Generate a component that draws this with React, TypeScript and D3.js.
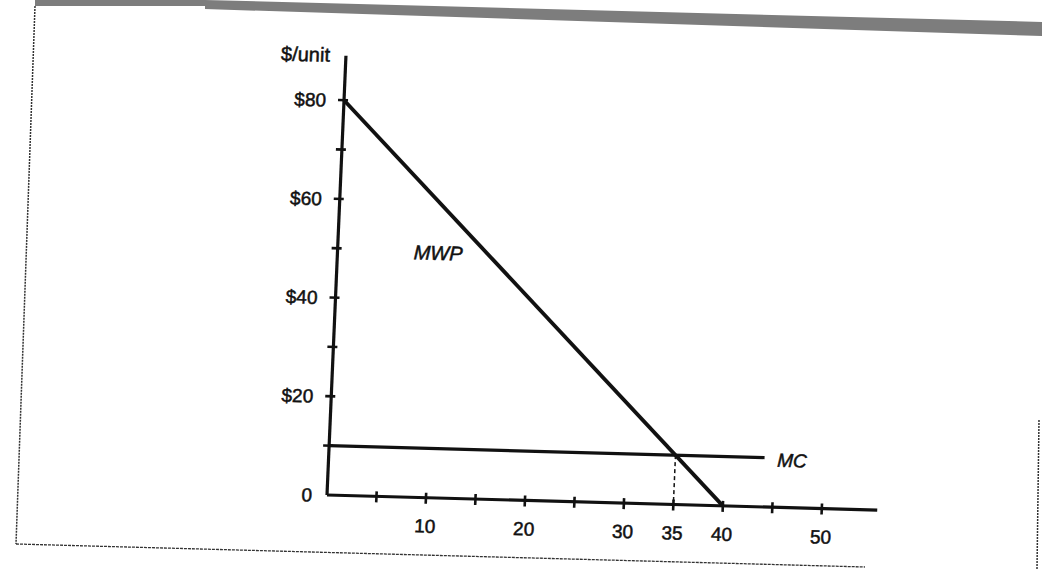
import React from "react";
import * as d3 from "d3";

// ---- data ----
const xTickValues = [5, 10, 15, 20, 25, 30, 35, 40, 45, 50];
const xLabelValues = [10, 20, 30, 35, 40, 50];
const yTickValues = [10, 20, 30, 40, 50, 60, 70, 80];
const yLabelValues = [0, 20, 40, 60, 80];
const yLabelTexts = ["0", "$20", "$40", "$60", "$80"];
const mwpQ = [0, 40];
const mwpP = [80, 0];
const mcQ = [0, 44];
const mcP = [10, 10];
const eqQ = 35;
const eqP = 10;
const xMax = 55.6;
const yMax = 89;

const W = 1042;
const H = 569;
const FONT = "'Liberation Sans', Arial, Helvetica, sans-serif";
const INK = "#111";

export default function App() {
  const x = d3.scaleLinear().domain([0, 10]).range([0, 99]);
  const y = d3.scaleLinear().domain([0, 10]).range([0, -49.4]);
  const line = d3
    .line<[number, number]>()
    .x((d) => x(d[0]))
    .y((d) => y(d[1]));
  const mwp: [number, number][] = mwpQ.map((q, i) => [q, mwpP[i]]);
  const mc: [number, number][] = mcQ.map((q, i) => [q, mcP[i]]);

  // slightly skewed scan
  const tf = "matrix(0.9996,0.0274,-0.0431,0.999,327,495)";

  // band along top
  const bandPts = [
    [35, 0],
    [205, 0],
    [1042, 22],
    [1042, 36],
    [205, 9],
    [205, 6],
    [35, 6],
  ]
    .map((p) => p.join(","))
    .join(" ");

  const textStroke = { stroke: INK, strokeWidth: 0.5 };

  return (
    <svg
      width={W}
      height={H}
      style={{ position: "absolute", left: 0, top: 0, background: "#fff" }}
    >
      <rect x={0} y={0} width={W} height={H} fill="#fff" />
      {/* scan frame */}
      <polygon points={bandPts} fill="#7d7d7d" />
      <line x1={35} y1={6} x2={16} y2={544} stroke="#333" strokeWidth={1.5} strokeDasharray="2 1" />
      <line x1={16} y1={544} x2={865} y2={567} stroke="#333" strokeWidth={1.3} strokeDasharray="3 1" />
      <line x1={1039} y1={420} x2={1037} y2={569} stroke="#333" strokeWidth={1.5} strokeDasharray="2 1" />

      <g transform={tf} fontFamily={FONT} fill={INK}>
        {/* axes */}
        <line x1={x(0)} y1={y(0)} x2={x(xMax)} y2={y(0)} stroke={INK} strokeWidth={3.2} />
        <line x1={x(0)} y1={y(0)} x2={x(0)} y2={y(yMax)} stroke={INK} strokeWidth={3.2} />
        {xTickValues.map((v) => (
          <line key={"xt" + v} x1={x(v)} x2={x(v)} y1={-5} y2={6} stroke={INK} strokeWidth={2.6} />
        ))}
        {yTickValues.map((v) => (
          <line key={"yt" + v} x1={-6} x2={4} y1={y(v)} y2={y(v)} stroke={INK} strokeWidth={2.6} />
        ))}
        {xLabelValues.map((v) => (
          <text key={"xl" + v} x={x(v)} y={35} textAnchor="middle" fontSize={19} {...textStroke}>
            {v}
          </text>
        ))}
        {yLabelValues.map((v, i) => (
          <text
            key={"yl" + v}
            x={v === 0 ? -15 : -18}
            y={y(v)}
            dy="0.36em"
            textAnchor="end"
            fontSize={19}
            {...textStroke}
          >
            {yLabelTexts[i]}
          </text>
        ))}
        <text x={-16} y={y(87.7)} textAnchor="end" fontSize={20} {...textStroke}>
          $/unit
        </text>

        {/* curves */}
        <path d={line(mc) || ""} fill="none" stroke={INK} strokeWidth={3.2} />
        <path d={line(mwp) || ""} fill="none" stroke={INK} strokeWidth={3.8} />
        <line
          x1={x(eqQ)}
          x2={x(eqQ)}
          y1={y(eqP)}
          y2={y(0)}
          stroke={INK}
          strokeWidth={1.5}
          strokeDasharray="4 3"
        />
        <text x={x(7.7)} y={y(48.2)} fontSize={20} fontStyle="italic" {...textStroke}>
          MWP
        </text>
        <text x={x(45.3)} y={y(8.2)} fontSize={19} fontStyle="italic" {...textStroke}>
          MC
        </text>
      </g>
    </svg>
  );
}
